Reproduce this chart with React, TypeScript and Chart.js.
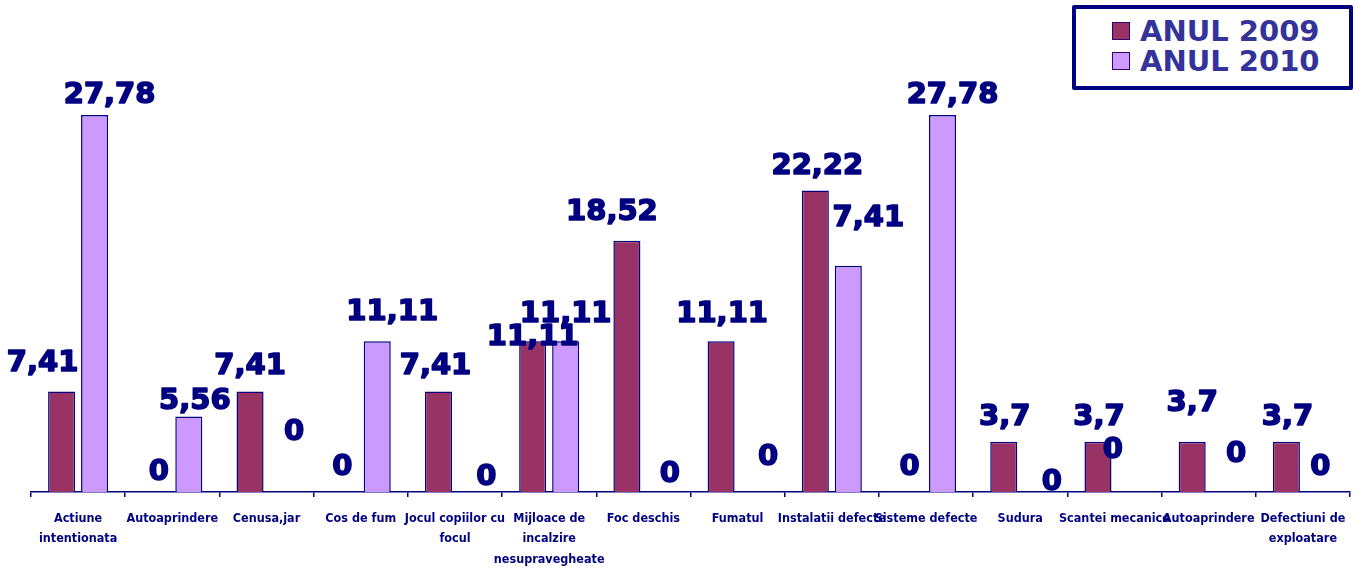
import React, { useEffect, useRef } from "react";
import { Chart, registerables } from "chart.js";

Chart.register(...registerables);

const categories: (string | string[])[] = [
  ["Actiune", "intentionata"],
  "Autoaprindere",
  "Cenusa,jar",
  "Cos de fum",
  ["Jocul copiilor cu", "focul"],
  ["Mijloace de", "incalzire", "nesupravegheate"],
  "Foc deschis",
  "Fumatul",
  "Instalatii defecte",
  "Sisteme defecte",
  "Sudura",
  "Scantei mecanice",
  "Autoaprindere",
  ["Defectiuni de", "exploatare"],
];

const seriesNames = ["ANUL 2009", "ANUL 2010"];

const values2009 = [7.41, 0, 7.41, 0, 7.41, 11.11, 18.52, 11.11, 22.22, 0, 3.7, 3.7, 3.7, 3.7];
const values2010 = [27.78, 5.56, 0, 11.11, 0, 11.11, 0, 0, 16.67, 27.78, 0, 0, 0, 0];

const labels2009 = ["7,41", "0", "7,41", "0", "7,41", "11,11", "18,52", "11,11", "22,22", "0", "3,7", "3,7", "3,7", "3,7"];
const labels2010 = ["27,78", "5,56", "0", "11,11", "0", "11,11", "0", "0", "7,41", "27,78", "0", "0", "0", "0"];

const yMin = 0;
const yMax = 30;

// label nudges (pixels) as placed by hand in the original chart
const nudge2009: [number, number][] = [
  [-19, -3], [3, 5], [0, 0], [-2, 0], [-3, 0], [0, 21], [-15, -4],
  [1, -2], [2, 0], [0, 0], [1, 0], [1, 0], [0, -14], [1, 0],
];
const nudge2010: [number, number][] = [
  [15, 5], [6, 9], [11, -35], [15, -4], [15, 10], [0, -2], [10, 7],
  [14, -10], [20, -23], [10, 5], [15, 15], [-18, -17], [11, -13], [1, 0],
];

const NAVY = "#000080";
const COLOR_2009 = "#993366";
const COLOR_2010 = "#CC99FF";

const dataLabelPlugin = {
  id: "dataLabelsCustom",
  afterDatasetsDraw(chart: any) {
    const ctx = chart.ctx;
    const texts = [labels2009, labels2010];
    const nudges = [nudge2009, nudge2010];
    ctx.save();
    ctx.font = "bold 29px 'DejaVu Sans', Verdana, sans-serif";
    ctx.fillStyle = NAVY;
    ctx.strokeStyle = NAVY;
    ctx.lineWidth = 1.6;
    ctx.lineJoin = "round";
    ctx.textAlign = "center";
    ctx.textBaseline = "alphabetic";
    chart.data.datasets.forEach((_ds: any, d: number) => {
      const meta = chart.getDatasetMeta(d);
      meta.data.forEach((el: any, i: number) => {
        const [dx, dy] = nudges[d][i];
        const x = el.x + dx;
        const y = el.y - 17 + dy;
        ctx.fillText(texts[d][i], x, y);
        ctx.strokeText(texts[d][i], x, y);
      });
    });
    ctx.restore();
  },
};

export default function App() {
  const canvasRef = useRef<HTMLCanvasElement | null>(null);

  useEffect(() => {
    if (!canvasRef.current) return;
    const chart = new Chart(canvasRef.current, {
      type: "bar",
      data: {
        labels: categories,
        datasets: [
          {
            label: seriesNames[0],
            data: values2009,
            backgroundColor: COLOR_2009,
            borderColor: NAVY,
            borderWidth: 1.5,
            categoryPercentage: 0.7,
            barPercentage: 0.82,
          },
          {
            label: seriesNames[1],
            data: values2010,
            backgroundColor: COLOR_2010,
            borderColor: NAVY,
            borderWidth: 1.5,
            categoryPercentage: 0.7,
            barPercentage: 0.82,
          },
        ],
      },
      options: {
        animation: false,
        responsive: true,
        maintainAspectRatio: false,
        layout: { padding: { left: 31, right: 16, top: 85, bottom: -11.5 } },
        plugins: {
          legend: { display: false },
          tooltip: { enabled: false },
          title: { display: false },
        },
        scales: {
          x: {
            grid: {
              display: true,
              drawOnChartArea: false,
              drawTicks: true,
              tickLength: 5,
              color: NAVY,
              lineWidth: 1.5,
              offset: true,
            },
            border: { display: true, color: NAVY, width: 1.5 },
            ticks: {
              color: NAVY,
              autoSkip: false,
              maxRotation: 0,
              minRotation: 0,
              padding: 11,
              font: {
                family: "'DejaVu Sans Condensed', 'Liberation Sans', sans-serif",
                size: 12.5,
                weight: "bold",
                lineHeight: 1.64,
              },
            },
          },
          y: {
            display: false,
            min: yMin,
            max: yMax,
          },
        },
      },
      plugins: [dataLabelPlugin],
    });
    return () => chart.destroy();
  }, []);

  const swatches = [COLOR_2009, COLOR_2010];

  return (
    <div
      style={{
        position: "fixed",
        left: 0,
        top: 0,
        width: 1366,
        height: 569,
        background: "#fff",
        overflow: "hidden",
      }}
    >
      <canvas ref={canvasRef} />
      <div
        style={{
          position: "absolute",
          left: 1072,
          top: 5,
          width: 281,
          height: 85,
          boxSizing: "border-box",
          border: `4px solid ${NAVY}`,
          borderRadius: 2,
          background: "#fff",
        }}
      >
        {seriesNames.map((name, i) => (
          <div
            key={name}
            style={{
              position: "absolute",
              left: 36,
              top: 7 + i * 30,
              height: 30,
              display: "flex",
              alignItems: "center",
              whiteSpace: "nowrap",
            }}
          >
            <span
              style={{
                display: "inline-block",
                width: 18,
                height: 18,
                boxSizing: "border-box",
                border: "1.5px solid #330066",
                background: swatches[i],
                marginRight: 10,
              }}
            />
            <span
              style={{
                font: "bold 29px 'DejaVu Sans', Verdana, sans-serif",
                lineHeight: "30px",
                color: "#333399",
              }}
            >
              {name}
            </span>
          </div>
        ))}
      </div>
    </div>
  );
}
